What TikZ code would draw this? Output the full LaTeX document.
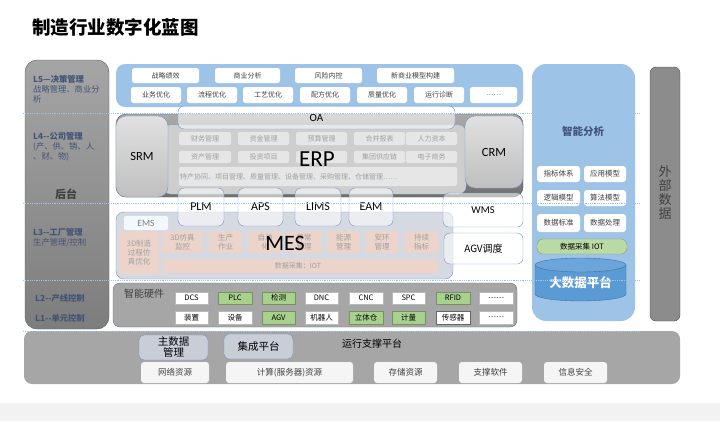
\documentclass[tikz,border=0pt]{standalone}
\usepackage{fontspec}
\setmainfont{Noto Sans CJK SC}
\newfontfamily\latfont{Carlito}
\usepackage{tikz}
\usetikzlibrary{positioning,calc}
\definecolor{paneblue}{RGB}{157,195,230}
\definecolor{edgeblue}{RGB}{114,147,203}
\definecolor{cellgray}{RGB}{230,230,230}
\definecolor{erpgray}{RGB}{206,206,206}
\definecolor{frametop}{RGB}{170,170,170}
\definecolor{framebot}{RGB}{112,112,112}
\definecolor{coltop}{RGB}{165,165,165}
\definecolor{colbot}{RGB}{125,125,125}
\definecolor{txtgray}{RGB}{160,160,160}
\definecolor{darktxt}{RGB}{64,64,64}
\definecolor{slate}{RGB}{68,84,118}
\definecolor{mespink}{RGB}{236,212,203}
\definecolor{mesbg}{RGB}{213,217,225}
\definecolor{hwgreen}{RGB}{169,209,142}
\definecolor{platgray}{RGB}{166,166,166}
\definecolor{dbblue}{RGB}{91,155,213}
\definecolor{dbedge}{RGB}{65,113,156}
\definecolor{bandgray}{RGB}{242,242,242}
\definecolor{mdmfill}{RGB}{200,205,214}
\definecolor{extgray}{RGB}{140,140,140}
\tikzset{
    box/.style={
        rectangle,
        inner sep=0pt,
        outer sep=0pt
    },
    l5cell/.style={
        box,
        fill=white,
        rounded corners=2.5pt,
        minimum height=15pt,
        text=darktxt,
        font=\fontsize{7}{8}\selectfont
    },
    erpcell/.style={
        box,
        fill=cellgray,
        rounded corners=2pt,
        text=txtgray,
        font=\fontsize{7}{8}\selectfont
    },
    sysbox/.style={
        box,
        draw=edgeblue,
        fill=white,
        fill opacity=0.55,
        text opacity=1,
        rounded corners=6pt,
        font=\latfont\fontsize{12}{13}\selectfont
    },
    mescell/.style={
        box,
        fill=mespink,
        rounded corners=1pt,
        text=txtgray,
        align=center,
        font=\fontsize{7.5}{9}\selectfont
    },
    sacell/.style={
        box,
        fill=white,
        rounded corners=3pt,
        text=darktxt,
        font=\fontsize{7.5}{8}\selectfont
    },
    hwcell/.style={
        box,
        fill=white,
        draw=gray!55,
        line width=0.4pt,
        text=black,
        minimum height=12.5pt,
        font=\fontsize{7.5}{8}\selectfont
    },
    hwgcell/.style={
        hwcell,
        fill=hwgreen,
        draw=hwgreen!70!black
    },
    rescell/.style={
        box,
        fill=white!96!black,
        rounded corners=3pt,
        minimum height=21pt,
        text=darktxt,
        font=\fontsize{8.5}{9}\selectfont
    },
    layertxt/.style={
        anchor=west,
        inner sep=0pt,
        align=left,
        text=slate,
        font=\fontsize{8.3}{9.8}\selectfont
    },
    sepline/.style={
        draw=paneblue,
        densely dotted,
        line width=0.8pt
    }
}

\begin{document}
\begin{tikzpicture}[x=1pt,y=-1pt]
\useasboundingbox (0,0) rectangle (720,421);
\fill[bandgray] (0,403) rectangle (720,421);

% Title
\node[anchor=west, inner sep=0pt, font=\bfseries\fontsize{18.5}{20}\selectfont] (title) at (32,27) {制造行业数字化蓝图};

% Layer column
\node[box, draw=gray!70!black, top color=coltop, bottom color=colbot, rounded corners=12pt, minimum width=84pt, minimum height=269pt] (layers) at (67,194.5) {};
\node[layertxt] (l5-txt) at (33,89.5) {\textbf{L5—决策管理}\\战略管理、商业分\\析};
\node[layertxt] (l4-txt) at (33,147) {\textbf{L4-{}-公司管理}\\(产、供、销、人\\、财、物)};
\node[font=\bfseries\fontsize{11}{12}\selectfont, text=darktxt] (backend) at (66,194) {后台};
\node[layertxt] (l3-txt) at (33,238) {\textbf{L3-{}-工厂管理}\\生产管理/控制};
\node[layertxt] (l2-txt) at (35,298) {\textbf{L2-{}-产线控制}};
\node[layertxt] (l1-txt) at (35,318) {\textbf{L1-{}-单元控制}};

% L5 decision
\node[box, fill=paneblue, rounded corners=9pt, minimum width=407pt, minimum height=43pt] (l5) at (319.5,85.5) {};
\node[l5cell, minimum width=67pt] (zljx) at (165.5,75.5) {战略绩效};
\node[l5cell, minimum width=65pt] (syfx) at (247.5,75.5) {商业分析};
\node[l5cell, minimum width=67pt] (fxnk) at (328.5,75.5) {风险内控};
\node[l5cell, minimum width=77pt] (xsymx) at (415.5,75.5) {新商业模型构建};
\node[l5cell, minimum width=50pt, minimum height=16pt] (ywyh) at (156,95) {业务优化};
\node[l5cell, minimum width=50pt, minimum height=16pt] (lcyh) at (212,95) {流程优化};
\node[l5cell, minimum width=50pt, minimum height=16pt] (gyyh) at (268,95) {工艺优化};
\node[l5cell, minimum width=50pt, minimum height=16pt] (pfyh) at (325,95) {配方优化};
\node[l5cell, minimum width=50pt, minimum height=16pt] (zlyh) at (382,95) {质量优化};
\node[l5cell, minimum width=50pt, minimum height=16pt] (yxzd) at (439,95) {运行诊断};
\node[l5cell, minimum width=47pt, minimum height=16pt] (l5-more) at (493.5,95) {……};

% ERP
\node[box, draw=gray!60!black, top color=frametop, bottom color=framebot, rounded corners=10pt, minimum width=407pt, minimum height=83pt] (erp-frame) at (319.5,155.5) {};
\node[box, draw=paneblue, fill=erpgray, rounded corners=8pt, minimum width=303pt, minimum height=69pt] (erp-in) at (314.5,159.5) {};
\node[erpcell, minimum width=52pt, minimum height=13pt] (cwgl) at (205,138.5) {财务管理};
\node[erpcell, minimum width=51pt, minimum height=13pt] (zjgl) at (263.5,138.5) {资金管理};
\node[erpcell, minimum width=51pt, minimum height=13pt] (ysgl) at (321.5,138.5) {预算管理};
\node[erpcell, minimum width=51pt, minimum height=13pt] (hbbb) at (379.5,138.5) {合并报表};
\node[erpcell, minimum width=51pt, minimum height=13pt] (rlzb) at (431.5,138.5) {人力资本};
\node[erpcell, minimum width=52pt, minimum height=12pt] (zcgl) at (205,157) {资产管理};
\node[erpcell, minimum width=51pt, minimum height=12pt] (tzxm) at (263.5,157) {投资项目};
\node[erpcell, minimum width=51pt, minimum height=12pt] (erp-r2c3) at (321.5,157) {};
\node[erpcell, minimum width=51pt, minimum height=12pt] (jtgyl) at (379.5,157) {集团供应链};
\node[erpcell, minimum width=51pt, minimum height=12pt] (dzsw) at (431.5,157) {电子商务};
\node[erpcell, minimum height=19pt, text width=276pt, inner xsep=1pt, align=left] (erp-r3) at (318,176.5) {特产协同、项目管理、质量管理、设备管理、采购管理、仓储管理……};
\node[font=\latfont\fontsize{23}{24}\selectfont] (erp-lbl) at (317,159) {ERP};
\node[box, draw=edgeblue, top color=white!88!black, bottom color=white!75!black, rounded corners=10pt, minimum width=52pt, minimum height=81pt, font=\latfont\fontsize{12.5}{13}\selectfont] (srm) at (142,156.5) {SRM};
\node[box, draw=edgeblue, top color=white!88!black, bottom color=white!75!black, rounded corners=10pt, minimum width=58pt, minimum height=72pt, font=\latfont\fontsize{12.5}{13}\selectfont] (crm) at (494,152) {CRM};
\node[sysbox, minimum width=277pt, minimum height=23pt, font=\latfont\fontsize{11}{12}\selectfont] (oa) at (316.5,117.5) {OA};

% MES
\node[box, draw=edgeblue, fill=mesbg, rounded corners=8pt, minimum width=337pt, minimum height=67pt] (mes) at (284.5,245.5) {};
\node[box, fill=white!88!paneblue, rounded corners=2pt, minimum width=44pt, minimum height=14pt, text=gray, font=\latfont\fontsize{9.5}{10}\selectfont] (ems) at (146,223) {EMS};
\node[mescell, minimum width=40pt, minimum height=43pt] (fzyh) at (139,252.5) {3D制造\\过程仿\\真优化};
\node[mescell, minimum width=41pt, minimum height=22pt] (fzjk) at (182.5,242) {3D仿真\\监控};
\node[mescell, minimum width=33pt, minimum height=22pt] (sczy) at (225.5,242) {生产\\作业};
\node[mescell, minimum width=34pt, minimum height=22pt] (zdh) at (265,242) {自动\\化};
\node[mescell, minimum width=34pt, minimum height=22pt] (ycgl) at (304,242) {异常\\管理};
\node[mescell, minimum width=33pt, minimum height=22pt] (nygl) at (343.5,242) {能源\\管理};
\node[mescell, minimum width=32pt, minimum height=22pt] (ahgl) at (382,242) {安环\\管理};
\node[mescell, minimum width=33pt, minimum height=22pt] (cxzb) at (421.5,242) {持续\\指标};
\node[mescell, minimum width=275pt, minimum height=14pt] (mes-iot) at (300.5,266) {};
\node[text=txtgray, font=\fontsize{7}{8}\selectfont] (mes-iot-txt) at (298,266) {数据采集：IOT};
\node[font=\latfont\fontsize{22}{23}\selectfont] (mes-lbl) at (285,243) {MES};

% PLM, APS, LIMS, EAM, WMS, AGV
\node[sysbox, minimum width=46pt, minimum height=38pt] (plm) at (201,207) {PLM};
\node[sysbox, minimum width=45pt, minimum height=38pt] (aps) at (260.5,207) {APS};
\node[sysbox, minimum width=46pt, minimum height=38pt] (lims) at (318,207) {LIMS};
\node[sysbox, minimum width=44pt, minimum height=38pt] (eam) at (371,207) {EAM};
\node[sysbox, minimum width=80pt, minimum height=34pt, font=\latfont\fontsize{10.5}{11}\selectfont] (wms) at (483,210) {WMS};
\node[sysbox, minimum width=79pt, minimum height=31pt, font=\fontsize{10}{11}\selectfont] (agv) at (483.5,248.5) {AGV调度};

% Smart analysis
\node[box, fill=paneblue, rounded corners=14pt, minimum width=103pt, minimum height=257pt] (smart) at (583.5,192.5) {};
\node[text=slate, font=\bfseries\fontsize{10.5}{11}\selectfont] (smart-lbl) at (583,131) {智能分析};
\node[sacell, minimum width=43pt, minimum height=16pt] (zbtx) at (558.5,174) {指标体系};
\node[sacell, minimum width=42pt, minimum height=16pt] (yymx) at (605,174) {应用模型};
\node[sacell, minimum width=43pt, minimum height=16pt] (ljmx) at (558.5,198) {逻辑模型};
\node[sacell, minimum width=42pt, minimum height=16pt] (sfmx) at (605,198) {算法模型};
\node[sacell, minimum width=43pt, minimum height=18pt] (sjbz) at (558.5,223) {数据标准};
\node[sacell, minimum width=42pt, minimum height=18pt] (sjcl) at (605,223) {数据处理};
\node[box, fill=hwgreen!80!white, draw=hwgreen!75!black, rounded corners=6pt, minimum width=90pt, minimum height=15pt, font=\fontsize{7.5}{8}\selectfont] (sa-iot) at (582,246.5) {数据采集 IOT};
\fill[dbblue] (535,265) -- (535,294) arc[start angle=180, end angle=360, x radius=45.5pt, y radius=7pt] -- (626,265) -- cycle;
\draw[dbedge] (535,265) -- (535,294) arc[start angle=180, end angle=360, x radius=45.5pt, y radius=7pt] -- (626,265);
\filldraw[fill=dbblue!90!white, draw=dbedge] (580.5,265) ellipse [x radius=45.5pt, y radius=7pt];
\node[text=white, font=\bfseries\fontsize{12.5}{13}\selectfont] (bigdata) at (580.5,283) {大数据平台};

% External data
\node[box, draw=gray!60!black, fill=extgray, rounded corners=6pt, minimum width=30pt, minimum height=254pt] (ext) at (665,194) {};
\node[align=center, text=darktxt, font=\fontsize{13}{14}\selectfont] (ext-lbl) at (665,193) {外\\部\\数\\据};

% Smart hardware
\node[box, draw=gray!50!slate, fill=platgray, rounded corners=7pt, minimum width=404pt, minimum height=44pt] (hw) at (315,305) {};
\node[text=darktxt, font=\fontsize{10}{11}\selectfont] (hw-lbl) at (144,294) {智能硬件};
\node[hwcell, minimum width=33pt] (dcs) at (191.5,298) {DCS};
\node[hwgcell, minimum width=34pt] (plc) at (235,298) {PLC};
\node[hwgcell, minimum width=33pt] (jc) at (278.5,298) {检测};
\node[hwcell, minimum width=33pt] (dnc) at (321.5,298) {DNC};
\node[hwcell, minimum width=34pt] (cnc) at (366,298) {CNC};
\node[hwcell, minimum width=33pt] (spc) at (408.5,298) {SPC};
\node[hwgcell, minimum width=34pt] (rfid) at (453,298) {RFID};
\node[hwcell, minimum width=34pt] (hw-more1) at (496,298) {……};
\node[hwcell, minimum width=33pt, minimum height=13pt] (zz) at (191.5,317.5) {装置};
\node[hwcell, minimum width=34pt, minimum height=13pt] (sb) at (235,317.5) {设备};
\node[hwgcell, minimum width=33pt, minimum height=13pt] (agv-hw) at (278.5,317.5) {AGV};
\node[hwcell, minimum width=33pt, minimum height=13pt] (jqr) at (321.5,317.5) {机器人};
\node[hwgcell, minimum width=34pt, minimum height=13pt] (ltc) at (366,317.5) {立体仓};
\node[hwgcell, minimum width=33pt, minimum height=13pt] (jl) at (408.5,317.5) {计量};
\node[hwcell, draw=gray!80!black, minimum width=34pt, minimum height=13pt] (cgq) at (453,317.5) {传感器};
\node[hwcell, minimum width=34pt, minimum height=13pt] (hw-more2) at (496,317.5) {……};

% Operation support platform
\node[box, fill=platgray, rounded corners=8pt, minimum width=656pt, minimum height=53pt] (plat) at (352,357.5) {};
\node[box, draw=edgeblue, fill=mdmfill, rounded corners=5pt, minimum width=69pt, minimum height=25pt, align=center, font=\fontsize{10.5}{11}\selectfont] (mdm) at (173.5,347.5) {主数据\\管理};
\node[box, draw=edgeblue, fill=mdmfill, rounded corners=5pt, minimum width=69pt, minimum height=25pt, font=\fontsize{10.5}{11}\selectfont] (integ) at (258.5,346.5) {集成平台};
\node[font=\fontsize{10}{11}\selectfont] (plat-lbl) at (372,344) {运行支撑平台};
\node[rescell, minimum width=68pt] (wlzy) at (175,372.5) {网络资源};
\node[rescell, minimum width=127pt] (jszy) at (289.5,372.5) {计算(服务器)资源};
\node[rescell, minimum width=63pt] (cczy) at (405.5,372.5) {存储资源};
\node[rescell, minimum width=63pt] (zcrj) at (490.5,372.5) {支撑软件};
\node[rescell, minimum width=63pt] (xxaq) at (575.5,372.5) {信息安全};

% Layer separators
\draw[sepline] (23,113) -- (640,113);
\draw[sepline] (23,203) -- (640,203);
\draw[sepline] (23,280) -- (640,280);
\draw[sepline] (23,331) -- (640,331);
\end{tikzpicture}
\end{document}
